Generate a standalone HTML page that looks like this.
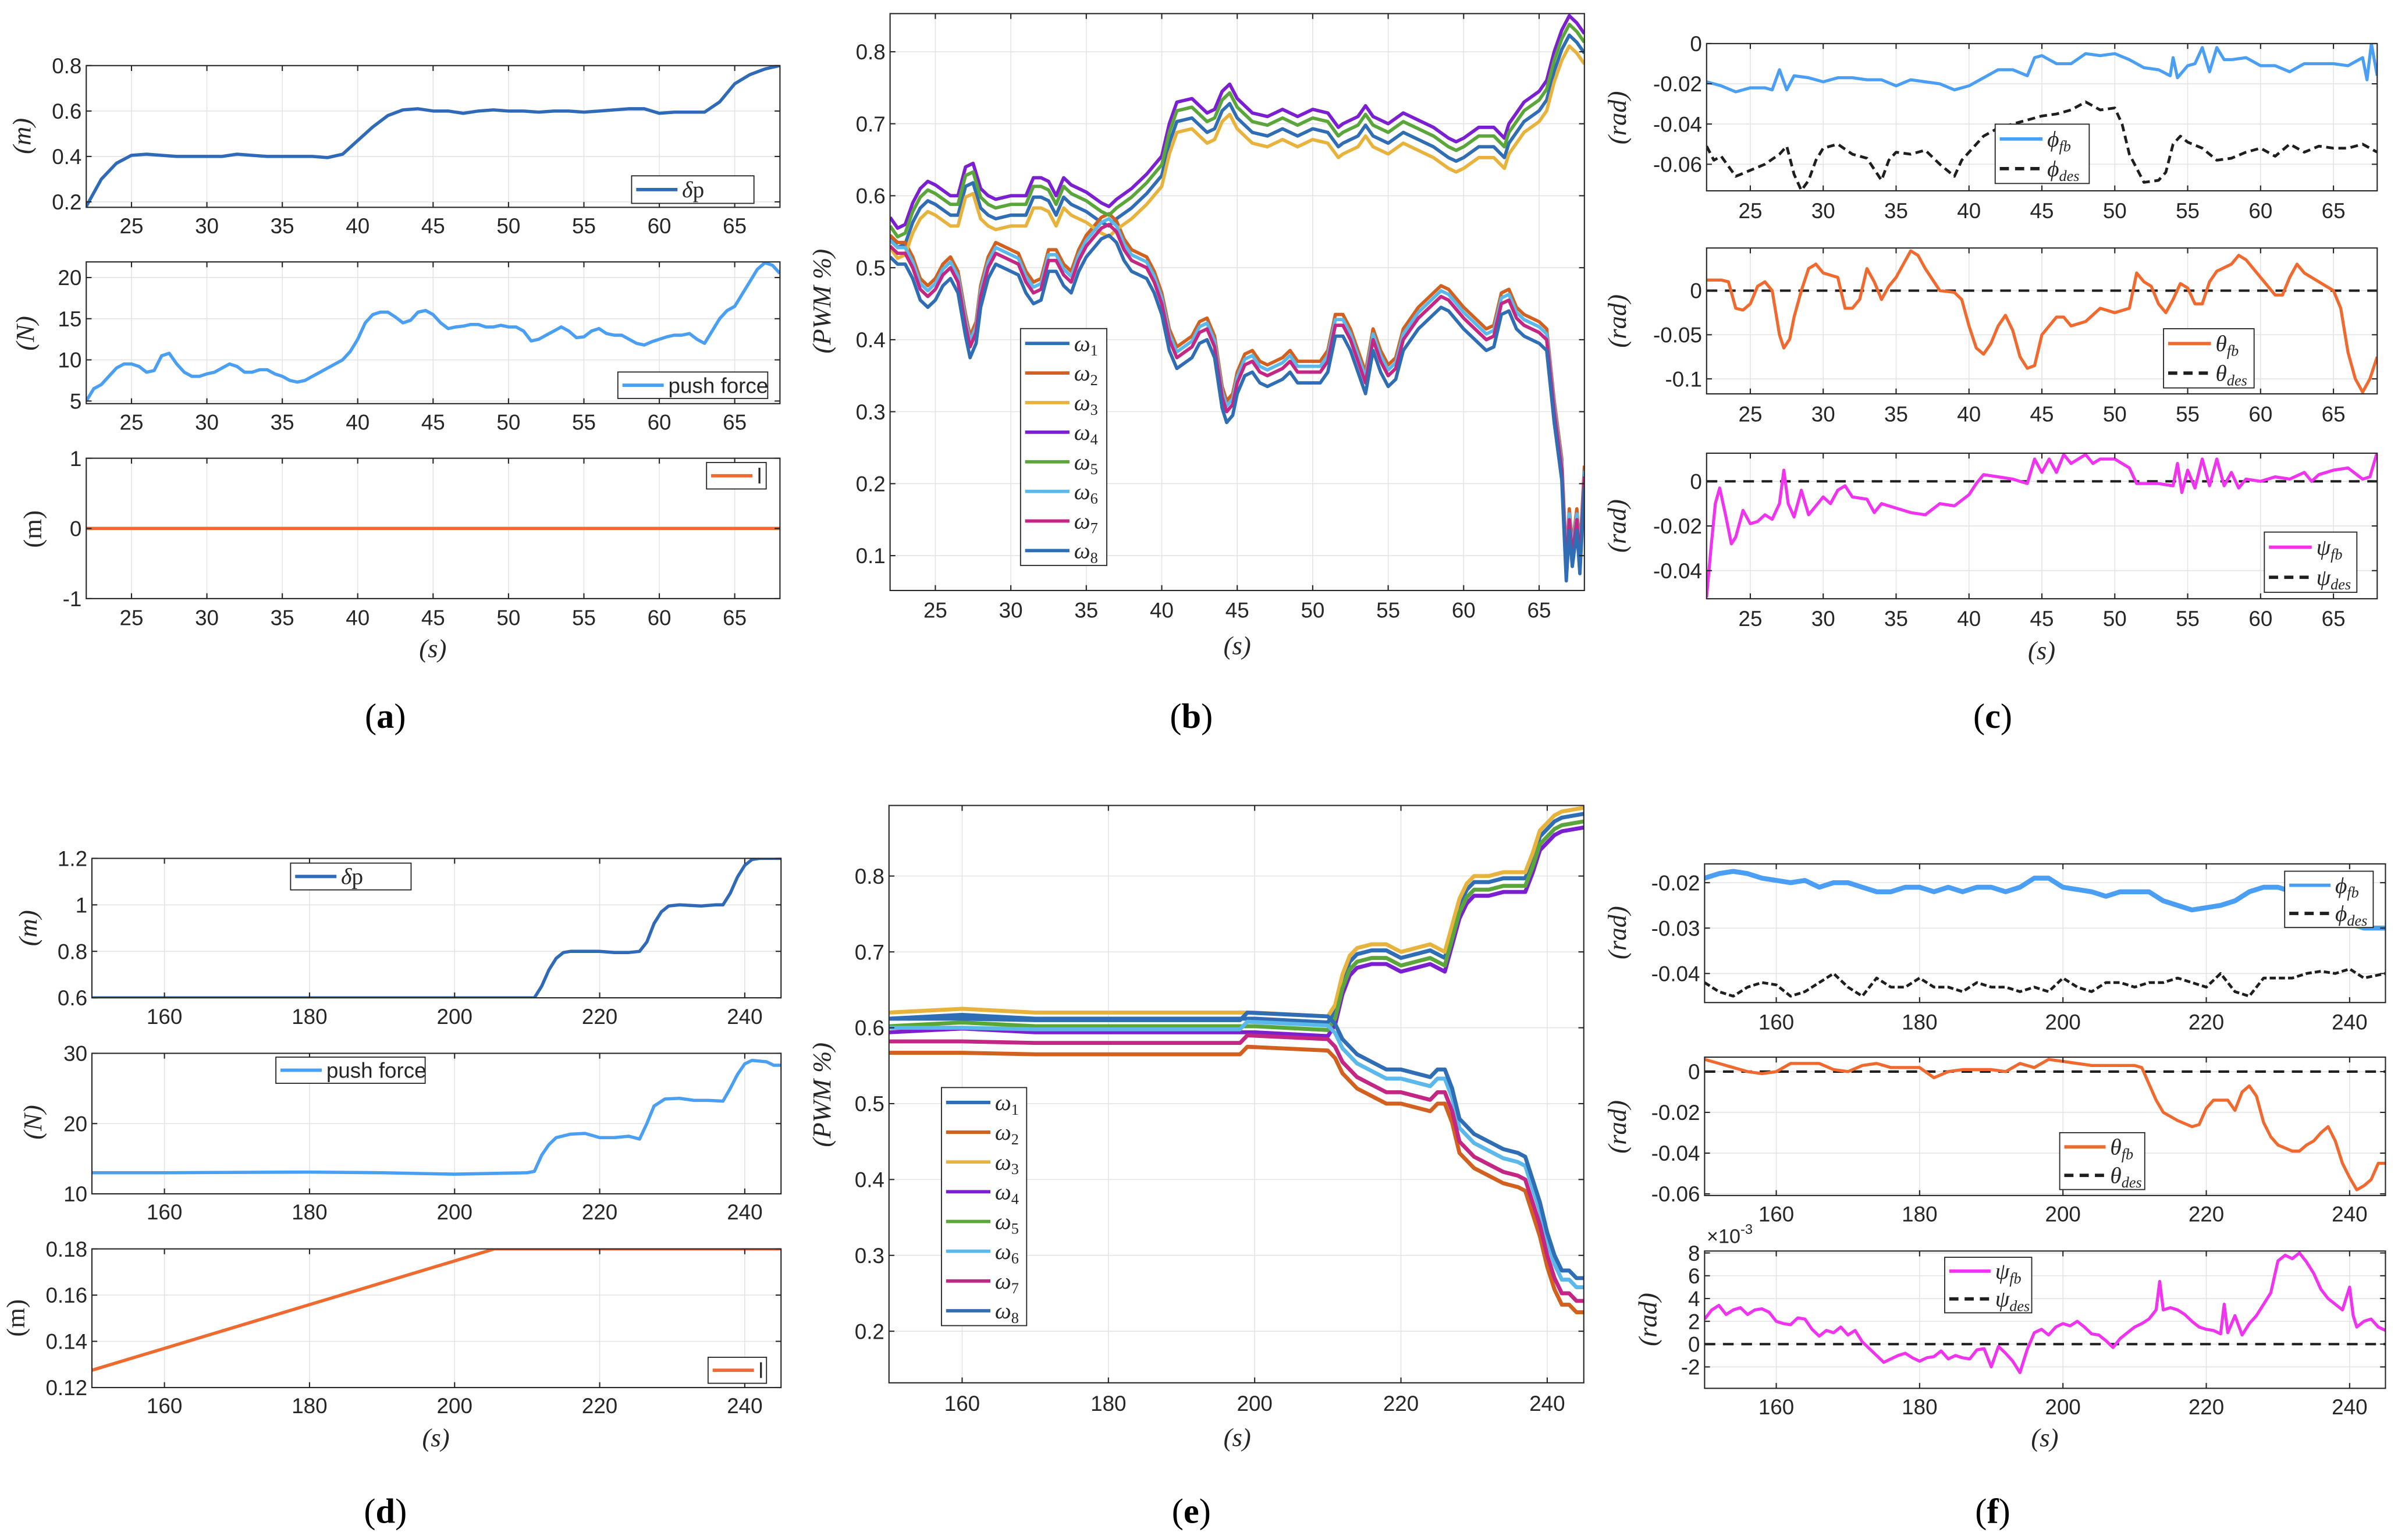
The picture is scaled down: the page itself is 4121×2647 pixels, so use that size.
<!DOCTYPE html>
<html><head><meta charset="utf-8"><style>
html,body{margin:0;padding:0;background:#fff;}
svg{display:block;}
</style></head><body>
<svg id="fig" xmlns="http://www.w3.org/2000/svg" width="4121" height="2647" viewBox="0 0 1568 1007.2" preserveAspectRatio="none">
<rect x="0" y="0" width="1568" height="1007.2" fill="#fff"/>
</svg>
<script>
// ---------- (a) data ----------
const aDpTime = [22,23,24,25,26,27,28,29,30,31,32,33,34,35,36,37,38,39,40,41,42,43,44,45,46,47,48,49,50,51,52,53,54,55,56,57,58,59,60,61,62,63,64,65,66,67,68];
const aDpValues = [.18,.30,.37,.405,.41,.405,.40,.40,.40,.40,.41,.405,.40,.40,.40,.40,.395,.41,.47,.53,.58,.605,.61,.60,.60,.59,.60,.605,.60,.60,.595,.60,.60,.595,.60,.605,.61,.61,.59,.595,.595,.595,.64,.72,.76,.785,.80];
const aForceTime = [22,22.5,23,23.5,24,24.5,25,25.5,26,26.5,27,27.5,28,28.5,29,29.5,30,30.5,31,31.5,32,32.5,33,33.5,34,34.5,35,35.5,36,36.5,37,37.5,38,38.5,39,39.5,40,40.5,41,41.5,42,42.5,43,43.5,44,44.5,45,45.5,46,46.5,47,47.5,48,48.5,49,49.5,50,50.5,51,51.5,52,52.5,53,53.5,54,54.5,55,55.5,56,56.5,57,57.5,58,58.5,59,59.5,60,60.5,61,61.5,62,62.5,63,63.5,64,64.5,65,65.5,66,66.5,67,67.5,68];
const aForceValues = [5,6.5,7,8,9,9.5,9.5,9.2,8.5,8.7,10.5,10.8,9.5,8.5,8,8,8.3,8.5,9,9.5,9.2,8.5,8.5,8.8,8.8,8.3,8,7.5,7.3,7.5,8,8.5,9,9.5,10,11,12.5,14.5,15.5,15.8,15.8,15.2,14.5,14.8,15.8,16,15.5,14.5,13.8,14,14.1,14.3,14.3,14,14,14.2,14,14,13.5,12.3,12.5,13,13.5,14,13.5,12.7,12.8,13.5,13.8,13.2,13,13,12.5,12,11.8,12.2,12.5,12.8,13,13,13.2,12.5,12,13.5,15,16,16.5,18,19.5,21,21.8,21.5,20.5];
const aLTime = [22,68];
const aLValues = [0,0];
// ---------- (b) data ----------
const bUpperTime = [22,22.5,23,23.5,24,24.5,25,26,26.5,27,27.5,28,28.5,29,30,31,31.5,32,32.5,33,33.5,34,35,36,36.5,37,38,39,40,40.5,41,42,43,43.5,44,44.5,45,46,47,48,49,50,51,51.7,52,53,53.5,54,55,56,57,58,59,59.5,60,61,62,62.7,63,64,65,65.5,66,66.5,67,67.5,68];
const bUpperValues = [.57,.555,.56,.59,.61,.62,.615,.60,.60,.64,.645,.61,.60,.595,.60,.60,.625,.625,.62,.60,.625,.615,.605,.59,.585,.595,.61,.63,.655,.70,.73,.735,.715,.72,.745,.755,.735,.715,.71,.72,.71,.72,.715,.695,.70,.71,.725,.71,.70,.715,.705,.695,.68,.675,.68,.695,.695,.68,.70,.73,.745,.76,.80,.83,.85,.84,.825];
const bUpperOffsets = [0,-0.012,-0.027,-0.042]; // w4, w5, w1, w3
const bLowerTime = [22,22.5,23,23.5,24,24.5,25,25.5,26,26.5,27,27.3,27.7,28,28.5,29,30,30.5,31,31.5,32,32.5,33,33.5,34,34.5,35,36,36.5,37,37.5,38,39,39.5,40,40.5,41,42,42.5,43,43.5,44,44.3,44.7,45,45.5,46,46.5,47,48,48.5,49,50,50.5,51,51.5,52,52.5,53,53.5,54,54.5,55,55.5,56,57,58,58.5,59,60,61,61.5,62,62.5,63,63.5,64,65,65.5,66,66.5,66.8,67,67.2,67.5,67.7,68];
const bLowerValues = [.53,.52,.52,.50,.47,.46,.47,.49,.50,.48,.42,.39,.41,.46,.50,.52,.51,.505,.48,.465,.47,.51,.51,.49,.48,.51,.53,.555,.56,.55,.525,.51,.50,.48,.45,.40,.375,.39,.41,.415,.39,.32,.30,.31,.34,.365,.37,.355,.35,.36,.37,.355,.355,.355,.37,.42,.42,.40,.37,.34,.40,.37,.35,.36,.40,.43,.45,.46,.455,.43,.41,.40,.405,.45,.455,.43,.42,.41,.40,.30,.22,.08,.15,.10,.15,.09,.21];
const bLowerOffsets = [0,0.008,0.015,-0.015]; // w7, w6, w2, w8
// ---------- (c) data ----------
const cPhiTime = [22,23,24,25,26,26.5,27,27.5,28,29,30,31,32,33,34,35,36,37,38,39,40,41,42,43,44,44.5,45,46,47,48,49,50,51,52,53,53.8,54,54.3,55,55.5,56,56.5,57,57.5,58,59,60,61,62,63,64,65,66,67,67.3,67.6,68];
const cPhiValues = [-.019,-.021,-.024,-.022,-.022,-.023,-.013,-.023,-.016,-.017,-.019,-.017,-.017,-.018,-.018,-.021,-.018,-.019,-.020,-.023,-.021,-.017,-.013,-.013,-.016,-.007,-.006,-.010,-.010,-.005,-.006,-.005,-.008,-.012,-.013,-.016,-.007,-.017,-.011,-.010,-.002,-.014,-.002,-.008,-.008,-.007,-.011,-.011,-.014,-.010,-.010,-.010,-.011,-.007,-.018,0,-.016];
const cPhiDesTime = [22,22.5,23,24,25,26,27,27.5,28,28.5,29,29.5,30,31,32,33,34,34.5,35,36,37,38,39,39.5,40,41,42,43,44,45,46,47,48,49,50,50.5,51,52,53,53.5,54,54.5,55,56,57,58,59,60,61,62,63,64,65,66,67,68];
const cPhiDesValues = [-.051,-.058,-.056,-.066,-.063,-.060,-.055,-.051,-.065,-.073,-.068,-.058,-.052,-.050,-.055,-.057,-.068,-.058,-.054,-.055,-.053,-.060,-.066,-.058,-.054,-.046,-.042,-.040,-.038,-.036,-.035,-.033,-.029,-.033,-.032,-.040,-.055,-.069,-.068,-.064,-.050,-.046,-.049,-.052,-.058,-.057,-.054,-.052,-.056,-.050,-.054,-.051,-.052,-.052,-.050,-.054];
const cThetaTime = [22,23,23.5,24,24.5,25,25.5,26,26.5,27,27.3,27.7,28,28.5,29,29.5,30,31,31.5,32,32.5,33,33.5,34,34.5,35,35.5,36,36.5,37,38,39,39.5,40,40.5,41,41.5,42,42.5,43,43.5,44,44.5,45,46,46.5,47,48,49,50,51,51.5,52,52.5,53,53.5,54,54.5,55,55.5,56,56.5,57,58,58.5,59,60,60.5,61,61.5,62,62.5,63,64,64.5,65,65.5,66,66.5,67,67.5,68];
const cThetaValues = [.012,.012,.01,-.02,-.022,-.015,.005,.01,0,-.05,-.065,-.055,-.03,0,.025,.03,.02,.015,-.02,-.02,-.01,.025,.01,-.01,.005,.015,.03,.045,.04,.025,0,-.002,-.01,-.04,-.065,-.072,-.06,-.04,-.028,-.045,-.075,-.088,-.085,-.05,-.03,-.03,-.04,-.035,-.02,-.025,-.02,.02,.01,.005,-.015,-.025,-.01,.008,.003,-.015,-.015,.01,.022,.03,.04,.035,.015,.005,-.005,-.005,.015,.03,.02,.01,.005,0,-.02,-.07,-.1,-.115,-.1,-.075];
const cPsiTime = [22,22.3,22.6,22.9,23.3,23.7,24,24.5,25,25.5,26,26.5,27,27.3,27.6,28,28.5,29,29.5,30,30.5,31,31.5,32,33,33.5,34,35,36,37,38,39,40,40.5,41,42,43,44,44.5,45,45.5,46,46.5,47,48,48.5,49,50,51,51.5,52,53,54,54.3,54.6,55,55.5,56,56.5,57,57.5,58,58.5,59,60,61,62,63,63.5,64,65,66,67,67.5,68];
const cPsiValues = [-.052,-.03,-.01,-.003,-.015,-.028,-.025,-.013,-.019,-.018,-.015,-.017,-.01,.005,-.01,-.016,-.004,-.015,-.011,-.007,-.01,-.004,-.002,-.007,-.008,-.014,-.01,-.012,-.014,-.015,-.01,-.011,-.006,-.001,.003,.002,.001,-.001,.01,.004,.01,.004,.012,.008,.012,.008,.01,.01,.006,-.001,-.001,-.001,-.002,.008,-.005,.005,-.003,.01,-.002,.01,-.002,.004,-.003,.001,0,.002,.001,.004,0,.003,.005,.006,.001,.002,.013];
// ---------- (d) data ----------
const dDpTime = [150,170,190,211,212,213,214,215,216,220,222,224,225.5,226.5,227.5,228.5,229.5,231,234,236,237,238,239,240,241,242,245];
const dDpValues = [.6,.6,.6,.6,.65,.72,.77,.795,.80,.80,.795,.795,.80,.84,.92,.97,.995,1.0,.995,1.0,1.0,1.05,1.12,1.17,1.195,1.2,1.2];
const dForceTime = [150,160,180,190,200,210,211,212,213,214,216,218,220,222,224,225.5,226.5,227.5,229,231,233,235,237,238,239,240,241,243,244,245];
const dForceValues = [13,13,13.1,13,12.8,13,13.2,15.5,17,18,18.5,18.6,18,18,18.2,17.8,20,22.5,23.5,23.6,23.3,23.3,23.2,25,27,28.5,29,28.8,28.3,28.3];
const dLTime = [150,205.5,245];
const dLValues = [.1275,.18,.18];
// ---------- (e) data ----------
const eUpperTime = [150,160,170,180,190,200,210,211,212,213,214,216,218,220,222,224,226,227,228,229,230,232,234,236,237,238,239,240,241,242,245];
const eUpperValues = [.62,.625,.62,.62,.62,.62,.615,.63,.67,.695,.705,.71,.71,.70,.705,.71,.70,.735,.77,.79,.80,.80,.805,.805,.805,.83,.86,.87,.88,.885,.89];
const eUpperOffsets = [0,-0.008,-0.018,-0.026]; // w3, w1, w5, w4
const eLowerTime = [150,160,170,180,190,198,199,210,211,212,214,216,218,220,222,224,225,226,227,228,230,232,234,236,237,238,239,240,241,242,243,244,245];
const eLowerValues = [.612,.612,.61,.61,.61,.61,.62,.615,.605,.585,.565,.555,.545,.545,.54,.535,.545,.545,.52,.48,.46,.45,.44,.435,.43,.40,.37,.33,.30,.28,.28,.27,.27];
const eLowerOffsets = [0,-0.012,-0.03,-0.045]; // w8, w6, w7, w2
// ---------- (f) data ----------
const fPhiTime = [150,152,154,156,158,160,162,164,166,168,170,172,174,176,178,180,182,184,186,188,190,192,194,196,198,200,202,204,206,208,210,212,214,216,218,220,222,224,226,228,230,232,234,236,238,240,242,245];
const fPhiValues = [-.019,-.018,-.0175,-.018,-.019,-.0195,-.02,-.0195,-.021,-.02,-.02,-.021,-.022,-.022,-.021,-.021,-.022,-.021,-.022,-.021,-.021,-.022,-.021,-.019,-.019,-.021,-.0215,-.022,-.023,-.022,-.022,-.022,-.024,-.025,-.026,-.0255,-.025,-.024,-.022,-.021,-.021,-.022,-.023,-.024,-.025,-.029,-.030,-.030];
const fPhiDesTime = [150,152,154,156,158,160,162,164,166,168,170,172,174,176,178,180,182,184,186,188,190,192,194,196,198,200,202,204,206,208,210,212,214,216,218,220,222,224,226,228,230,232,234,236,238,240,242,245];
const fPhiDesValues = [-.042,-.044,-.045,-.043,-.042,-.0425,-.045,-.044,-.042,-.040,-.043,-.045,-.041,-.043,-.043,-.041,-.043,-.043,-.044,-.042,-.043,-.043,-.044,-.043,-.044,-.041,-.043,-.044,-.042,-.042,-.043,-.042,-.042,-.041,-.042,-.043,-.040,-.044,-.045,-.041,-.041,-.041,-.040,-.0395,-.040,-.039,-.041,-.040];
const fThetaTime = [150,152,154,156,158,160,162,164,166,168,170,172,174,176,178,180,182,184,186,188,190,192,194,196,198,200,202,204,206,208,210,211,212,213,214,216,218,219,220,221,222,223,224,225,226,227,228,229,230,232,233,234,235,236,237,238,239,240,241,242,243,244,245];
const fThetaValues = [.006,.004,.002,0,-.001,0,.004,.004,.004,.001,0,.003,.004,.002,.002,.002,-.003,0,.001,.001,.001,0,.004,.002,.006,.005,.004,.003,.003,.003,.003,.002,-.006,-.014,-.02,-.024,-.027,-.026,-.018,-.014,-.014,-.014,-.019,-.01,-.007,-.012,-.025,-.032,-.036,-.039,-.039,-.036,-.034,-.03,-.027,-.034,-.045,-.052,-.058,-.056,-.053,-.045,-.045];
const fPsiTime = [150,151,152,153,154,155,156,157,158,159,160,161,162,163,164,165,166,167,168,169,170,171,172,173,174,175,176,177,178,179,180,181,182,183,184,185,186,187,188,189,190,191,192,193,194,195,196,197,198,199,200,201,202,203,204,205,206,207,208,209,210,211,212,213,213.5,214,215,216,217,218,219,220,221,222,222.5,223,224,225,226,227,228,229,230,231,232,233,234,235,236,237,238,239,240,240.5,241,242,243,244,245];
const fPsiValues = [2.2,3,3.4,2.6,3,3.2,2.6,3,3.1,2.8,2,1.8,1.7,2.3,2.2,1.3,.7,1.2,1,1.5,.8,1.2,.2,-.4,-1,-1.6,-1.3,-1,-.8,-1.2,-1.5,-1.2,-1.1,-.6,-1.3,-1,-1.2,-1.3,-.5,-.4,-2,-.2,-.8,-1.5,-2.5,-.5,1,1.3,.8,1.5,1.8,1.6,2,1.5,.9,.8,.3,-.3,.5,1,1.5,1.8,2.2,3,5.5,3,3.2,3,2.6,2,1.5,1.3,1.2,.9,3.5,1,2.5,.8,1.8,2.5,3.5,4.5,7.3,7.8,7.5,8,7.2,6.2,4.8,4,3.5,3,5,2.5,1.5,2,2.2,1.5,1.2];
// ---------- tick labels ----------
const topXTicks = [25,30,35,40,45,50,55,60,65];
const botXTicks = [160,180,200,220,240];
const a1YTicks = [0.2,0.4,0.6,0.8];
const a2YTicks = [5,10,15,20];
const a3YTicks = [-1,0,1];
const bYTicks = [0.1,0.2,0.3,0.4,0.5,0.6,0.7,0.8];
const c1YTicks = [-0.06,-0.04,-0.02,0];
const c2YTicks = [-0.1,-0.05,0];
const c3YTicks = [-0.04,-0.02,0];
const d1YTicks = [0.6,0.8,1,1.2];
const d2YTicks = [10,20,30];
const d3YTicks = [0.12,0.14,0.16,0.18];
const eYTicks = [0.2,0.3,0.4,0.5,0.6,0.7,0.8];
const f1YTicks = [-0.04,-0.03,-0.02];
const f2YTicks = [-0.06,-0.04,-0.02,0];
const f3YTicks = [-2,0,2,4,6,8];

const NS = 'http://www.w3.org/2000/svg';
const svg = document.getElementById('fig');
function mk(tag, attrs, parent) {
  const e = document.createElementNS(NS, tag);
  for (const k in attrs) e.setAttribute(k, attrs[k]);
  parent.appendChild(e);
  return e;
}
const SANS = '"Liberation Sans", "DejaVu Sans", sans-serif';
const SERIF = '"Liberation Serif", "DejaVu Serif", serif';
let clipId = 0;

function fmt(v) {
  return String(Math.round(v * 1000) / 1000);
}

function makeAxes(name, x0, x1, y0, y1, xd, yd, xticks, yticks, labY) {
  const g = mk('g', {}, svg);
  
  
  const sx = v => x0 + (v - xd[0]) / (xd[1] - xd[0]) * (x1 - x0);
  const sy = v => y1 - (v - yd[0]) / (yd[1] - yd[0]) * (y1 - y0);
  const bg = mk('rect', {x: x0, y: y0, width: x1 - x0, height: y1 - y0, fill: '#fff'}, g);
  
  
  const grid = mk('g', {stroke: '#e4e4e4', 'stroke-width': 0.6}, g);
  
  
  xticks.forEach(t => {
    const l = mk('line', {x1: sx(t), x2: sx(t), y1: y0, y2: y1}, grid);
    
    
  });
  yticks.forEach(t => {
    const l = mk('line', {x1: x0, x2: x1, y1: sy(t), y2: sy(t)}, grid);
    
    
  });
  clipId++;
  const cp = mk('clipPath', {id: 'cp' + clipId}, g);
  mk('rect', {x: x0, y: y0, width: x1 - x0, height: y1 - y0}, cp);
  const data = mk('g', {'clip-path': 'url(#cp' + clipId + ')'}, g);
  
  
  const fr = mk('g', {}, g);
  
  
  const box = mk('rect', {x: x0, y: y0, width: x1 - x0, height: y1 - y0, fill: 'none', stroke: '#262626', 'stroke-width': 0.8}, fr);
  
  
  const tk = 3.5;
  xticks.forEach(t => {
    const X = sx(t);
    const a = mk('line', {x1: X, x2: X, y1: y1, y2: y1 - tk, stroke: '#262626', 'stroke-width': 0.8}, fr);
    
    
    const b = mk('line', {x1: X, x2: X, y1: y0, y2: y0 + tk, stroke: '#262626', 'stroke-width': 0.8}, fr);
    
    
    const tx = mk('text', {x: X, y: labY + 5, 'text-anchor': 'middle', 'font-family': SANS, 'font-size': 14, fill: '#262626'}, fr);
    
    
    tx.textContent = fmt(t);
  });
  yticks.forEach(t => {
    const Y = sy(t);
    const a = mk('line', {x1: x0, x2: x0 + tk, y1: Y, y2: Y, stroke: '#262626', 'stroke-width': 0.8}, fr);
    
    
    const b = mk('line', {x1: x1, x2: x1 - tk, y1: Y, y2: Y, stroke: '#262626', 'stroke-width': 0.8}, fr);
    
    
    const tx = mk('text', {x: x0 - 3, y: Y + 5, 'text-anchor': 'end', 'font-family': SANS, 'font-size': 14, fill: '#262626'}, fr);
    
    
    tx.textContent = fmt(t);
  });
  return {sx, sy, data, g, fr};
}

function drawLine(ax, xs, ys, offset, color, width, dash, name) {
  const n = Math.min(xs.length, ys.length);
  let d = '';
  for (let i = 0; i < n; i++) d += (i ? 'L' : 'M') + ax.sx(xs[i]).toFixed(2) + ',' + ax.sy(ys[i] + offset).toFixed(2);
  const attrs = {d: d, fill: 'none', stroke: color, 'stroke-width': width, 'stroke-linejoin': 'round'};
  if (dash) attrs['stroke-dasharray'] = dash;
  const p = mk('path', attrs, ax.data);
  
  
  return p;
}

function yLabel(x, y, html, italic, name) {
  const t = mk('text', {x: x, y: y, transform: 'rotate(-90 ' + x + ' ' + y + ')', 'text-anchor': 'middle', 'font-family': SERIF, 'font-size': 17, 'font-style': italic ? 'italic' : 'normal', fill: '#262626'}, svg);
  
  
  t.innerHTML = html;
}
function sLabel(x, y) {
  const t = mk('text', {x: x, y: y + 5, 'text-anchor': 'middle', 'font-family': SERIF, 'font-size': 17, 'font-style': 'italic', fill: '#262626'}, svg);
  
  
  t.textContent = '(s)';
}
function panelLetter(x, y, ch) {
  const t = mk('text', {x: x, y: y + 8, 'text-anchor': 'middle', 'font-family': SERIF, 'font-size': 23, fill: '#000'}, svg);
  
  
  t.innerHTML = '(<tspan font-weight="bold">' + ch + '</tspan>)';
}
function legend(name, x1, y1, x2, y2, entries, lineLen) {
  const g = mk('g', {}, svg);
  
  
  const r = mk('rect', {x: x1, y: y1, width: x2 - x1, height: y2 - y1, fill: '#fff', stroke: '#262626', 'stroke-width': 0.7}, g);
  
  
  const h = (y2 - y1) / entries.length;
  entries.forEach((e, i) => {
    const cy = y1 + (i + 0.5) * h;
    const la = {x1: x1 + 3, x2: x1 + 3 + lineLen, y1: cy, y2: cy, stroke: e.color, 'stroke-width': e.w || 2.2};
    if (e.dash) la['stroke-dasharray'] = e.dash;
    const l = mk('line', la, g);
    
    
    const t = mk('text', {x: x1 + lineLen + 6, y: cy + 5, 'font-family': e.sans ? SANS : SERIF, 'font-size': e.size || 15, fill: '#262626'}, g);
    
    
    t.innerHTML = e.html;
  });
}
const sub = (a, b) => '<tspan font-style="italic">' + a + '</tspan><tspan font-size="10" dy="3" font-style="italic">' + b + '</tspan>';
const subN = (a, b) => '<tspan font-style="italic">' + a + '</tspan><tspan font-size="10" dy="3">' + b + '</tspan>';

const C_DP = '#2f6ab8', C_F = '#4a9ff2', C_L = '#ef6a2e', C_PHI = '#4a9ff5', C_TH = '#f06a30', C_PSI = '#ef33ef', C_DES = '#1e1e1e';
const W = ['#2f6db5', '#d2601e', '#e8b33c', '#7b1fd1', '#5aa63a', '#5ab8ea', '#c42683', '#2f6db5'];

// ===== (a) =====
let ax = makeAxes('plot-a-delta-p', 56.4, 510, 42.9, 135.6, [22, 68], [0.176, 0.8], topXTicks, a1YTicks, 147.6);
drawLine(ax, aDpTime, aDpValues, 0, C_DP, 2.1, null, 'delta-p-line');
legend('legend-a-delta-p', 413, 115, 493, 133, [{color: C_DP, html: '<tspan font-style="italic">δ</tspan>p'}], 27);
yLabel(20, 89, '(m)', true, 'y-axis-title');
ax = makeAxes('plot-a-push-force', 56.4, 510, 171.3, 264, [22, 68], [4.68, 21.9], topXTicks, a2YTicks, 276);
drawLine(ax, aForceTime, aForceValues, 0, C_F, 2.1, null, 'push-force-line');
legend('legend-a-push-force', 404, 243.3, 502, 260.6, [{color: C_F, html: 'push force', sans: true, size: 14}], 27);
yLabel(22, 218, '(N)', true, 'y-axis-title');
ax = makeAxes('plot-a-l', 56.4, 510, 299.7, 391.5, [22, 68], [-1, 1], topXTicks, a3YTicks, 403.8);
drawLine(ax, aLTime, aLValues, 0, C_L, 2.1, null, 'l-line');
legend('legend-a-l', 462, 302.5, 501, 319.8, [{color: C_L, html: 'l', sans: true, size: 14}], 27);
yLabel(27, 346, '(m)', false, 'y-axis-title');
sLabel(283, 424.7);
panelLetter(252, 468, 'a');

// ===== (b) =====
ax = makeAxes('plot-b-pwm', 582, 1036, 8.9, 386.2, [22, 68], [0.0516, 0.853], topXTicks, bYTicks, 399);
const bMap = [['u', 2], ['l', 3], ['u', 3], ['u', 0], ['u', 1], ['l', 1], ['l', 0], ['l', 3]];
bMap.forEach((m, i) => {
  const off = (i === 1) ? bLowerOffsets[2] : (m[0] === 'u' ? bUpperOffsets[m[1]] : bLowerOffsets[m[1]]);
  if (m[0] === 'u') drawLine(ax, bUpperTime, bUpperValues, off, W[i], 2.2, null, 'omega-' + (i + 1) + '-line');
  else drawLine(ax, bLowerTime, bLowerValues, off, W[i], 2.2, null, 'omega-' + (i + 1) + '-line');
});
legend('legend-b-motors', 667.3, 214.9, 723.7, 369.8, W.map((c, i) => ({color: c, html: subN('ω', i + 1)})), 29);
yLabel(543, 197, '(PWM %)', true, 'y-axis-title');
sLabel(809, 422.8);
panelLetter(779, 468, 'b');

// ===== (c) =====
ax = makeAxes('plot-c-phi', 1115.9, 1554.4, 28.5, 124.8, [22, 68], [-0.0732, 0], topXTicks, c1YTicks, 137.6);
drawLine(ax, cPhiTime, cPhiValues, 0, C_PHI, 2, null, 'phi-fb-line');
drawLine(ax, cPhiDesTime, cPhiDesValues, 0, C_DES, 1.8, '5 3', 'phi-des-line');
legend('legend-c-phi', 1304.6, 81.2, 1366.1, 120, [{color: C_PHI, html: sub('ϕ', 'fb')}, {color: C_DES, dash: '6 4', html: sub('ϕ', 'des')}], 28);
yLabel(1063, 77, '(rad)', true, 'y-axis-title');
ax = makeAxes('plot-c-theta', 1115.9, 1554.4, 162.2, 257.6, [22, 68], [-0.117, 0.0483], topXTicks, c2YTicks, 270.7);
drawLine(ax, [22, 68], [0, 0], 0, C_DES, 1.6, '7 5', 'theta-des-line');
drawLine(ax, cThetaTime, cThetaValues, 0, C_TH, 2, null, 'theta-fb-line');
legend('legend-c-theta', 1414.7, 215, 1473.9, 253.7, [{color: C_TH, html: sub('θ', 'fb')}, {color: C_DES, dash: '6 4', html: sub('θ', 'des')}], 28);
yLabel(1063, 210, '(rad)', true, 'y-axis-title');
ax = makeAxes('plot-c-psi', 1115.9, 1554.4, 296.4, 391.6, [22, 68], [-0.0526, 0.0126], topXTicks, c3YTicks, 404.4);
drawLine(ax, [22, 68], [0, 0], 0, C_DES, 1.6, '7 5', 'psi-des-line');
drawLine(ax, cPsiTime, cPsiValues, 0, C_PSI, 2, null, 'psi-fb-line');
legend('legend-c-psi', 1480.6, 348, 1541.1, 387.4, [{color: C_PSI, html: sub('ψ', 'fb')}, {color: C_DES, dash: '6 4', html: sub('ψ', 'des')}], 28);
yLabel(1063, 344, '(rad)', true, 'y-axis-title');
sLabel(1335, 426.2);
panelLetter(1303, 468, 'c');

// ===== (d) =====
ax = makeAxes('plot-d-delta-p', 60.1, 510.7, 561.4, 652.6, [150, 245], [0.6, 1.2], botXTicks, d1YTicks, 664.7);
drawLine(ax, dDpTime, dDpValues, 0, C_DP, 2.1, null, 'delta-p-line');
legend('legend-d-delta-p', 190, 564.5, 268.8, 582, [{color: C_DP, html: '<tspan font-style="italic">δ</tspan>p'}], 27);
yLabel(24, 607, '(m)', true, 'y-axis-title');
ax = makeAxes('plot-d-push-force', 60.1, 510.7, 688.9, 780.8, [150, 245], [10, 30], botXTicks, d2YTicks, 792.5);
drawLine(ax, dForceTime, dForceValues, 0, C_F, 2.1, null, 'push-force-line');
legend('legend-d-push-force', 180.4, 691.4, 278, 708.5, [{color: C_F, html: 'push force', sans: true, size: 14}], 27);
yLabel(27, 734, '(N)', true, 'y-axis-title');
ax = makeAxes('plot-d-l', 60.1, 510.7, 816.8, 907.5, [150, 245], [0.12, 0.18], botXTicks, d3YTicks, 919.2);
drawLine(ax, dLTime, dLValues, 0, C_L, 2.1, null, 'l-line');
legend('legend-d-l', 463, 887.7, 501.2, 904.7, [{color: C_L, html: 'l', sans: true, size: 14}], 27);
yLabel(16, 862, '(m)', false, 'y-axis-title');
sLabel(285, 941);
panelLetter(252, 988, 'd');

// ===== (e) =====
ax = makeAxes('plot-e-pwm', 581.3, 1035.6, 526.8, 904.4, [150, 245], [0.132, 0.893], botXTicks, eYTicks, 917.8);
const eMap = [['u', 1], ['l', 3], ['u', 0], ['u', 3], ['u', 2], ['l', 1], ['l', 2], ['l', 0]];
eMap.forEach((m, i) => {
  if (m[0] === 'u') drawLine(ax, eUpperTime, eUpperValues, eUpperOffsets[m[1]], W[i], 2.6, null, 'omega-' + (i + 1) + '-line');
  else drawLine(ax, eLowerTime, eLowerValues, eLowerOffsets[m[1]], W[i], 2.6, null, 'omega-' + (i + 1) + '-line');
});
legend('legend-e-motors', 615.6, 711.3, 671.3, 867, W.map((c, i) => ({color: c, html: subN('ω', i + 1)})), 29);
yLabel(543, 716, '(PWM %)', true, 'y-axis-title');
sLabel(809, 940.7);
panelLetter(779, 988, 'e');

// ===== (f) =====
ax = makeAxes('plot-f-phi', 1114.6, 1559.8, 565, 655.7, [150, 245], [-0.0464, -0.01586], botXTicks, f1YTicks, 668.3);
drawLine(ax, fPhiTime, fPhiValues, 0, C_PHI, 3.2, null, 'phi-fb-line');
drawLine(ax, fPhiDesTime, fPhiDesValues, 0, C_DES, 1.8, '4 2', 'phi-des-line');
legend('legend-f-phi', 1493.9, 569.8, 1551.8, 606.6, [{color: C_PHI, html: sub('ϕ', 'fb')}, {color: C_DES, dash: '6 4', html: sub('ϕ', 'des')}], 27);
yLabel(1063, 610, '(rad)', true, 'y-axis-title');
ax = makeAxes('plot-f-theta', 1114.6, 1559.8, 691.4, 781.9, [150, 245], [-0.0608, 0.0071], botXTicks, f2YTicks, 793.9);
drawLine(ax, [150, 245], [0, 0], 0, C_DES, 1.6, '7 5', 'theta-des-line');
drawLine(ax, fThetaTime, fThetaValues, 0, C_TH, 2, null, 'theta-fb-line');
legend('legend-f-theta', 1346.8, 740.8, 1402.4, 778, [{color: C_TH, html: sub('θ', 'fb')}, {color: C_DES, dash: '6 4', html: sub('θ', 'des')}], 27);
yLabel(1063, 737, '(rad)', true, 'y-axis-title');
ax = makeAxes('plot-f-psi', 1114.6, 1559.8, 818.2, 908, [150, 245], [-3.88, 8.17], botXTicks, f3YTicks, 920.1);
drawLine(ax, [150, 245], [0, 0], 0, C_DES, 1.6, '7 5', 'psi-des-line');
drawLine(ax, fPsiTime, fPsiValues, 0, C_PSI, 2, null, 'psi-fb-line');
legend('legend-f-psi', 1271.6, 822.3, 1328.5, 858.6, [{color: C_PSI, html: sub('ψ', 'fb')}, {color: C_DES, dash: '6 4', html: sub('ψ', 'des')}], 27);
yLabel(1083, 863, '(rad)', true, 'y-axis-title');
const ex = mk('text', {x: 1116, y: 813, 'font-family': SANS, 'font-size': 13, fill: '#262626'}, svg);


ex.innerHTML = '×10<tspan font-size="9" dy="-6">-3</tspan>';
sLabel(1337, 941);
panelLetter(1303, 988, 'f');
</script>
</body></html>
